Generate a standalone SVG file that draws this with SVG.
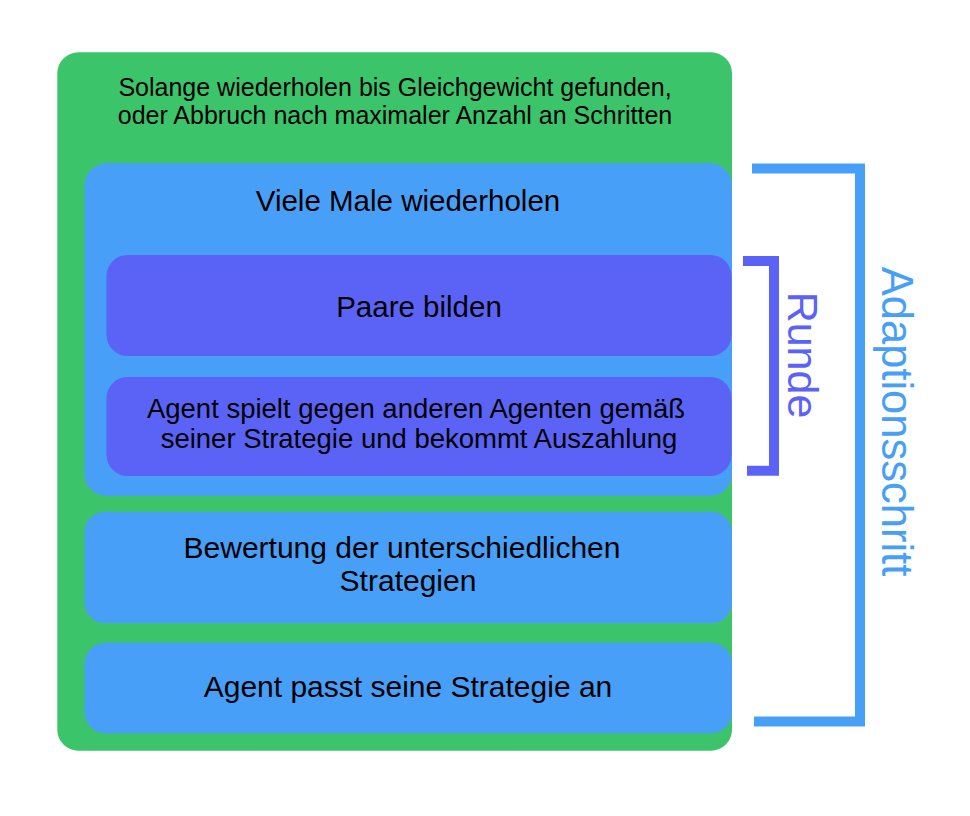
<svg xmlns="http://www.w3.org/2000/svg" width="970" height="816" viewBox="0 0 970 816">
<style>
  text { font-family: "Liberation Sans", Arial, Helvetica, sans-serif; fill: #000; text-anchor: middle; }
  .green { fill: #3CC46B; }
  .blue { fill: #479FF8; }
  .purple { fill: #5B63F7; }
  .bracketA { fill: none; stroke: #479FF8; stroke-width: 10; stroke-linejoin: miter; }
  .bracketR { fill: none; stroke: #5B63F7; stroke-width: 10; stroke-linejoin: miter; }
</style>
<rect width="970" height="816" fill="#FFFFFF"/>
<g id="loop-outer">
  <rect class="green" x="57.3" y="52.3" width="674.7" height="698.4" rx="21" ry="21"/>
  <text x="395" y="95.7" font-size="25">Solange wiederholen bis Gleichgewicht gefunden,</text>
  <text x="395" y="123.7" font-size="25">oder Abbruch nach maximaler Anzahl an Schritten</text>
</g>
<g id="loop-inner">
  <rect class="blue" x="84.5" y="163.3" width="647.5" height="332.7" rx="22" ry="22"/>
  <text x="408" y="210.7" font-size="29.5">Viele Male wiederholen</text>
</g>
<g id="paare">
  <rect class="purple" x="106.5" y="255" width="625" height="101" rx="21" ry="21"/>
  <text x="419" y="316.8" font-size="29.5">Paare bilden</text>
</g>
<g id="spiel">
  <rect class="purple" x="106.5" y="377" width="625" height="99" rx="21" ry="21"/>
  <text x="416" y="418.3" font-size="27.5">Agent spielt gegen anderen Agenten gemäß</text>
  <text x="419" y="448.3" font-size="27.5">seiner Strategie und bekommt Auszahlung</text>
</g>
<g id="bewertung">
  <rect class="blue" x="84.5" y="511.7" width="647.5" height="111.6" rx="21" ry="21"/>
  <text x="402" y="557.8" font-size="30">Bewertung der unterschiedlichen</text>
  <text x="408" y="591" font-size="30">Strategien</text>
</g>
<g id="anpassen">
  <rect class="blue" x="84.5" y="642.7" width="647.5" height="90.6" rx="21" ry="21"/>
  <text x="408" y="696.7" font-size="30">Agent passt seine Strategie an</text>
</g>
<g id="connectors">
  <polyline class="bracketR" points="743,261 774,261 774,470.8 747,470.8"/>
  <polyline class="bracketA" points="752,168.5 860,168.5 860,721.5 754,721.5"/>
</g>
<g id="labels">
  <text transform="translate(788,355) rotate(90)" font-size="43" style="fill:#5B63F7">Runde</text>
  <text transform="translate(881.7,421.5) rotate(90)" font-size="43.5" style="fill:#479FF8">Adaptionsschritt</text>
</g>
</svg>
